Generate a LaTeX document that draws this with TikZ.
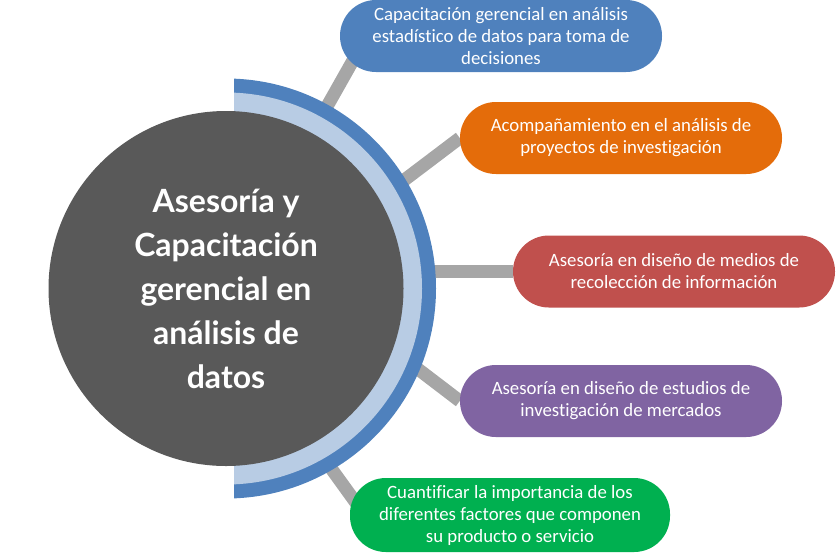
\documentclass[tikz,border=0pt]{standalone}
\usepackage{fontspec}
\setmainfont{Carlito}[Ligatures=NoCommon]
\newfontfamily\hubfont{Lato}
\definecolor{HubGray}{HTML}{595959}
\definecolor{RingLight}{HTML}{B8CCE4}
\definecolor{RingDark}{HTML}{4F81BD}
\definecolor{LinkGray}{HTML}{A6A6A6}
\definecolor{PillBlue}{HTML}{4F81BD}
\definecolor{PillOrange}{HTML}{E46C0A}
\definecolor{PillRed}{HTML}{C0504D}
\definecolor{PillPurple}{HTML}{8064A2}
\definecolor{PillGreen}{HTML}{00B050}
\usetikzlibrary{positioning, calc, backgrounds}

\begin{document}
\begin{tikzpicture}[
  x=1pt, y=-1pt,
  hub/.style={circle, fill=HubGray, minimum size=355pt, inner sep=0pt,
              text=white, align=center,
              font=\hubfont\bfseries\fontsize{32}{44}\selectfont},
  pill/.style={rounded corners=35.9pt, minimum width=322pt, minimum height=72pt,
               inner sep=0pt, text=white, align=center,
               font=\fontsize{18.8}{22}\selectfont},
  link/.style={line width=13pt, LinkGray},
]
  \useasboundingbox (0,0) rectangle (837,558);

  \node[hub] (hub) at (226,288.5) {Asesoría y\\Capacitación\\gerencial en\\análisis de\\datos};

  \node[pill, fill=PillBlue] (p1) at (501,36) {Capacitación gerencial en análisis\\estadístico de datos para toma de\\decisiones};
  \node[pill, fill=PillOrange] (p2) at (621,138) {Acompañamiento en el análisis de\\proyectos de investigación};
  \node[pill, fill=PillRed] (p3) at (674,271.5) {Asesoría en diseño de medios de\\recolección de información};
  \node[pill, fill=PillPurple] (p4) at (621,401) {Asesoría en diseño de estudios de\\investigación de mercados};
  \node[pill, fill=PillGreen, minimum height=74pt, minimum width=320pt] (p5) at (510,515) {Cuantificar la importancia de los\\diferentes factores que componen\\su producto o servicio};

  % spokes start under the ring
  \coordinate (a1) at ($(hub.center)+(61:198pt)$);
  \coordinate (a2) at ($(hub.center)+(31:198pt)$);
  \coordinate (a3) at ($(hub.center)+(0:198pt)$);
  \coordinate (a4) at ($(hub.center)+(-22:198pt)$);
  \coordinate (a5) at ($(hub.center)+(-60:198pt)$);

  \begin{scope}[on background layer]
    \draw[link] (a1) -- ([xshift=27pt]p1.west);
    \draw[link] (a2) -- (p2.west);
    \draw[link] (a3 |- p3.west) -- (p3.west);
    \draw[link] (a4) -- (p4.west);
    \draw[link] (a5) -- ([xshift=15pt]p5.west);
    % ring on the right half
    \begin{scope}
      \clip (234,0) rectangle (460,558);
      \fill[RingDark] (hub.center) circle (210pt);
      \fill[RingLight] (hub.center) circle (196pt);
    \end{scope}
  \end{scope}
\end{tikzpicture}
\end{document}
